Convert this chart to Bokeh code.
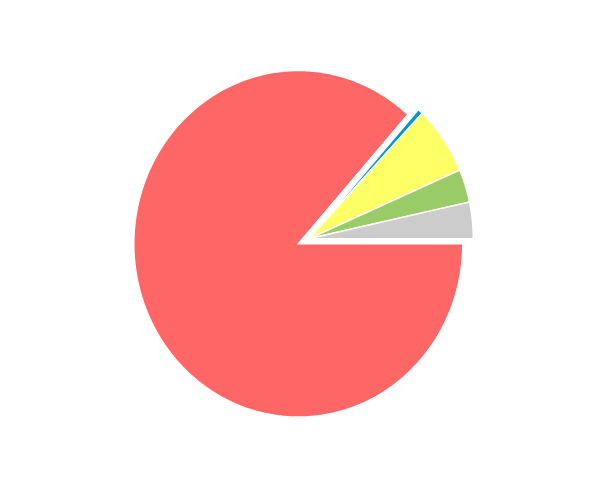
import numpy as np
from bokeh.plotting import figure
from bokeh.models import Range1d, ColumnDataSource
from bokeh.embed import file_html
from bokeh.resources import INLINE

# data (clockwise from 3 o'clock)
labels = ["Red", "Blue", "Yellow", "Green", "Grey"]
values = [86.6, 0.5, 6.4, 3.1, 3.4]
colors = ["#FF6666", "#0099CC", "#FFFF66", "#99CC66", "#CCCCCC"]
exploded = [False, True, True, True, True]

W, H = 584, 464
RX, RY = 164.5, 173.3        # pixels per data unit (x, y)
CX, CY = 297.8, 243.3        # pie centre in figure pixels (from left, from top)

p = figure(width=W, height=H, output_backend="svg", toolbar_location=None,
           x_range=Range1d(-CX / RX, (W - CX) / RX),
           y_range=Range1d(-(H - CY) / RY, CY / RY),
           min_border=0, border_fill_color="white", background_fill_color="white")
p.axis.visible = False
p.grid.visible = False
p.outline_line_color = None

vals = np.array(values, dtype=float)
fr = vals / vals.sum()
ends = -np.cumsum(fr) * 2 * np.pi
starts = np.concatenate([[0.0], ends[:-1]])

# exploded group offset along group mid-angle
ex_idx = [i for i, e in enumerate(exploded) if e]
g_start = starts[ex_idx[0]]
g_end = ends[ex_idx[-1]]
g_mid = (g_start + g_end) / 2
explode = 0.07
ox, oy = explode * np.cos(g_mid), explode * np.sin(g_mid)

xs, ys = [], []
for i in range(len(vals)):
    n = max(int(abs(ends[i] - starts[i]) / (2 * np.pi) * 720), 4)
    t = np.linspace(starts[i], ends[i], n)
    dx, dy = (ox, oy) if exploded[i] else (0.0, 0.0)
    xs.append(list(np.concatenate([[dx], dx + np.cos(t)])))
    ys.append(list(np.concatenate([[dy], dy + np.sin(t)])))

src = ColumnDataSource(dict(xs=xs, ys=ys, color=colors, label=labels))
p.patches("xs", "ys", source=src, fill_color="color", line_color="white",
          line_width=1.5, line_join="miter")

open("out.html", "w").write(file_html(p, INLINE))
